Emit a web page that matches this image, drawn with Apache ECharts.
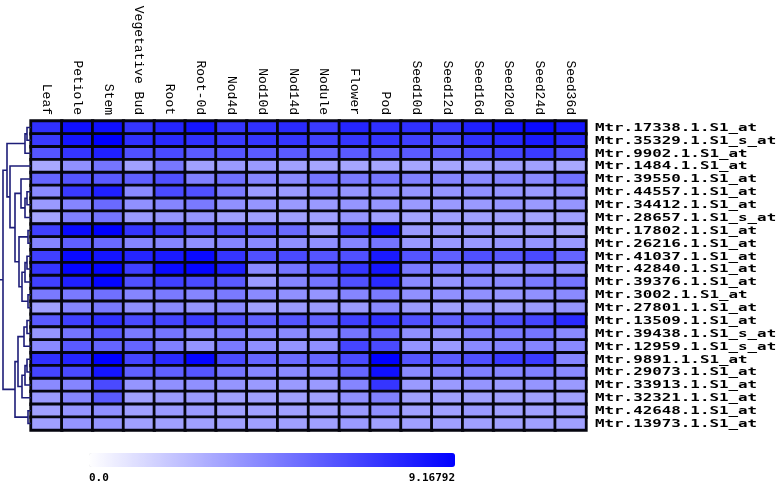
<!DOCTYPE html>
<html>
<head>
<meta charset="utf-8">
<script src="https://cdn.jsdelivr.net/npm/echarts@6/dist/echarts.min.js"></script>
<style>
html,body{margin:0;padding:0;background:#fff;}
#chart{width:778px;height:486px;}
</style>
</head>
<body>
<div id="chart"></div>
<script>
// Column (tissue) labels
var tissues = ['Leaf','Petiole','Stem','Vegetative Bud','Root','Root-0d','Nod4d','Nod10d','Nod14d','Nodule','Flower','Pod','Seed10d','Seed12d','Seed16d','Seed20d','Seed24d','Seed36d'];

// Row (probe set) labels
var probes = ['Mtr.17338.1.S1_at','Mtr.35329.1.S1_s_at','Mtr.9902.1.S1_at','Mtr.1484.1.S1_at','Mtr.39550.1.S1_at','Mtr.44557.1.S1_at','Mtr.34412.1.S1_at','Mtr.28657.1.S1_s_at','Mtr.17802.1.S1_at','Mtr.26216.1.S1_at','Mtr.41037.1.S1_at','Mtr.42840.1.S1_at','Mtr.39376.1.S1_at','Mtr.3002.1.S1_at','Mtr.27801.1.S1_at','Mtr.13509.1.S1_at','Mtr.39438.1.S1_s_at','Mtr.12959.1.S1_s_at','Mtr.9891.1.S1_at','Mtr.29073.1.S1_at','Mtr.33913.1.S1_at','Mtr.32321.1.S1_at','Mtr.42648.1.S1_at','Mtr.13973.1.S1_at'];

// Colour scale range
var scaleMin = 0.0;
var scaleMax = 9.16792;
var scaleLabels = ['0.0','9.16792'];

// Expression values, one array per probe (row), in tissue order
var expression = [
  [7.44,8.59,8.59,7.26,7.84,8.41,7.26,7.44,7.66,7.08,7.84,7.44,7.44,7.26,8.02,8.59,8.81,8.41],
  [7.08,8.41,9.17,7.44,7.66,7.44,7.08,7.26,7.26,6.87,7.26,7.26,6.87,6.51,7.44,7.66,8.23,7.66],
  [6.11,7.26,8.02,6.29,6.51,5.93,6.11,5.93,5.93,5.54,5.93,5.72,5.93,5.72,6.29,6.69,7.08,6.29],
  [3.13,3.99,4.96,3.42,4.85,3.42,3.63,3.63,3.42,3.24,3.24,3.24,3.24,3.24,3.24,3.42,3.42,3.13],
  [5.54,6.11,5.93,5.72,6.29,4.57,5.14,4.39,4.21,4.96,4.78,4.96,4.57,4.39,4.21,4.39,4.21,5.14],
  [4.21,7.08,8.02,4.21,6.51,6.29,4.78,3.63,3.63,4.21,3.81,3.99,3.81,3.81,3.99,3.81,3.63,3.81],
  [3.63,4.39,5.36,3.99,4.39,4.78,3.99,3.81,3.63,3.63,3.81,3.81,3.63,3.63,3.63,3.81,3.63,3.81],
  [3.24,4.57,4.96,3.63,3.81,3.81,3.42,3.42,3.42,3.42,3.81,3.42,3.24,3.42,3.42,3.42,3.24,3.42],
  [6.87,8.81,9.17,7.26,6.87,5.72,5.93,5.54,5.36,3.63,6.69,8.41,3.63,3.63,3.63,3.42,3.42,3.13],
  [4.39,5.72,5.36,4.39,4.39,3.99,4.39,4.21,3.99,3.99,4.39,4.96,3.63,3.63,3.63,3.81,3.81,3.63],
  [6.87,8.81,8.41,7.84,8.23,8.81,7.26,6.29,6.51,6.11,6.29,8.23,6.11,5.72,6.29,5.93,6.51,5.54],
  [7.26,8.99,8.99,6.87,8.81,8.99,8.02,4.21,4.96,5.93,7.26,8.41,4.78,4.57,4.57,3.99,4.21,3.99],
  [6.87,8.02,8.99,6.29,6.87,6.51,5.93,3.63,4.39,4.96,6.29,7.66,4.21,3.81,4.21,4.21,4.78,4.96],
  [4.78,4.78,5.14,4.39,4.78,4.39,4.78,4.21,3.99,3.81,4.39,4.78,3.99,3.99,3.99,3.81,3.99,4.21],
  [3.42,4.39,4.78,3.99,4.21,3.81,4.21,3.42,3.63,3.63,3.63,4.21,3.63,3.42,3.63,3.42,3.63,3.81],
  [5.93,6.87,7.44,6.51,6.69,7.08,6.29,5.72,6.11,5.72,6.87,7.44,6.29,5.72,5.93,6.29,6.69,7.66],
  [3.81,4.96,5.93,4.78,4.96,4.21,4.57,4.21,4.21,3.99,4.96,5.54,3.99,3.81,4.57,4.78,4.96,4.21],
  [4.21,5.93,5.54,5.54,4.57,3.81,4.78,3.99,3.81,3.99,6.69,6.51,3.81,3.63,4.21,4.39,4.39,4.21],
  [7.44,7.84,9.17,6.69,7.66,8.99,6.51,5.54,5.36,5.54,6.51,9.17,6.11,5.93,6.29,7.08,7.08,4.39],
  [6.69,6.51,8.41,5.72,5.72,6.11,4.96,4.39,4.21,4.39,5.54,8.59,4.21,4.39,4.57,4.39,4.57,4.21],
  [4.21,4.39,6.51,3.81,3.99,3.99,3.81,3.63,3.63,3.63,4.39,7.26,3.63,3.63,3.81,3.63,3.81,3.63],
  [3.63,4.39,5.93,3.42,3.63,3.63,3.42,3.42,3.42,3.42,3.99,4.57,3.42,3.42,3.42,3.42,3.42,3.42],
  [3.42,3.81,3.99,3.42,3.63,3.63,3.42,3.42,3.42,3.42,3.63,3.99,3.42,3.42,3.63,3.42,3.42,3.42],
  [3.42,3.81,3.81,3.42,3.42,3.42,3.42,3.42,3.42,3.42,3.63,3.42,3.42,3.42,3.42,3.42,3.42,3.42]
];

// Hierarchical clustering merges: [childA, childB, height]
// numeric children are rows; 'm<k>' refers to the k-th merge
var merges = [
  [0,1,4],['m0',2,6],
  [5,6,4],['m2',7,6],[4,'m3',10],
  [8,9,3],[10,11,4],['m6',12,6],[13,14,3],['m7','m8',9],['m5','m9',12],
  ['m4','m10',16],[3,'m11',21],['m1','m12',24],
  [15,16,4],['m14',17,7],[18,19,4],['m16',20,6],['m17',21,9],['m15','m18',13],
  [22,23,3],['m19','m20',16],
  ['m13','m21',28]
];
var rootStub = 31;

// ---- build series data ----
var heatData = [];
expression.forEach(function (row, r) {
  row.forEach(function (v, c) { heatData.push([c, r, v]); });
});

var nodes = [];
function nodeInfo(ref) {
  if (typeof ref === 'number') return {y: ref, h: 0};
  return nodes[parseInt(ref.slice(1), 10)];
}
var dendroData = [];
merges.forEach(function (m) {
  var a = nodeInfo(m[0]), b = nodeInfo(m[1]);
  nodes.push({y: (a.y + b.y) / 2, h: m[2]});
  dendroData.push([a.h, a.y, m[2], b.h, b.y]);
});
var root = nodes[nodes.length - 1];
dendroData.push([root.h, root.y, rootStub, root.h, root.y]);

var labelData = probes.map(function (p, i) { return [tissues.length - 1, i]; });

var monoFont = '"Liberation Mono", "DejaVu Sans Mono", monospace';
var boldMono = '"DejaVu Sans Mono", "Liberation Mono", monospace';

var chart = echarts.init(document.getElementById('chart'), null, {renderer: 'canvas'});
chart.setOption({
  backgroundColor: '#ffffff',
  animation: false,
  grid: [
    {left: 31, top: 121, width: 555, height: 309},
    {left: 0, top: 121, width: 31, height: 309}
  ],
  xAxis: [
    {
      type: 'category', gridIndex: 0, data: tissues, position: 'top',
      axisLine: {show: false}, axisTick: {show: false}, splitLine: {show: false},
      axisLabel: {rotate: 90, interval: 0, margin: 6, fontFamily: monoFont, fontSize: 13, color: '#000'}
    },
    {type: 'value', gridIndex: 1, min: 0, max: 31, inverse: true, show: false}
  ],
  yAxis: [
    {
      type: 'category', gridIndex: 0, data: probes, inverse: true, position: 'right',
      axisLine: {show: false}, axisTick: {show: false}, splitLine: {show: false},
      axisLabel: {show: false}
    },
    {type: 'value', gridIndex: 1, min: -0.5, max: 23.5, inverse: true, show: false}
  ],
  visualMap: {
    type: 'continuous', min: scaleMin, max: scaleMax, seriesIndex: 0,
    orient: 'horizontal', left: 89, top: 453, itemWidth: 14, itemHeight: 366,
    padding: 0, calculable: false, text: null, showLabel: false, hoverLink: false,
    inRange: {color: ['#ffffff', '#0000ff']}
  },
  series: [
    {
      type: 'heatmap', xAxisIndex: 0, yAxisIndex: 0, data: heatData,
      itemStyle: {borderColor: '#05050f', borderWidth: 2.8},
      emphasis: {disabled: true}
    },
    {
      type: 'custom', xAxisIndex: 1, yAxisIndex: 1, data: dendroData,
      encode: {x: [0, 2, 3], y: [1, 4]},
      silent: true,
      renderItem: function (params, api) {
        var p1 = api.coord([api.value(0), api.value(1)]);
        var p2 = api.coord([api.value(2), api.value(1)]);
        var p3 = api.coord([api.value(2), api.value(4)]);
        var p4 = api.coord([api.value(3), api.value(4)]);
        return {
          type: 'polyline',
          shape: {points: [p1, p2, p3, p4]},
          style: {stroke: '#1d1d78', lineWidth: 1.6, fill: null}
        };
      }
    },
    {
      type: 'custom', xAxisIndex: 0, yAxisIndex: 0, data: labelData,
      encode: {x: 0, y: 1},
      silent: true, clip: false,
      renderItem: function (params, api) {
        var pt = api.coord([api.value(0), api.value(1)]);
        var size = api.size([1, 1]);
        return {
          type: 'text',
          x: pt[0] + size[0] / 2 + 9,
          y: pt[1] + 0.5,
          scaleX: 1.44,
          style: {
            text: probes[params.dataIndex],
            font: 'bold 11px ' + boldMono,
            fill: '#000',
            align: 'left',
            verticalAlign: 'middle'
          }
        };
      }
    }
  ],
  graphic: [
    {type: 'text', left: 89, top: 473, style: {text: scaleLabels[0], font: 'bold 11px ' + boldMono, fill: '#000'}},
    {type: 'text', right: 778 - 455, top: 473, style: {text: scaleLabels[1], font: 'bold 11px ' + boldMono, fill: '#000'}}
  ]
});
</script>
</body>
</html>
